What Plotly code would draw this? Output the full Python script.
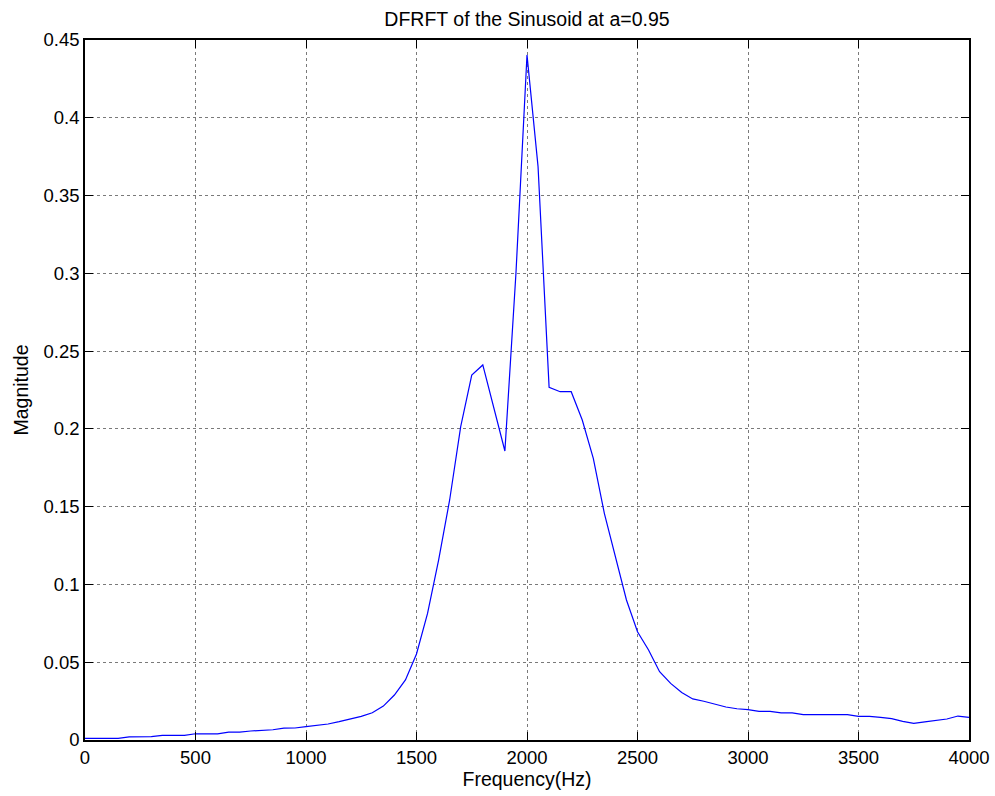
import plotly.graph_objects as go

freq_hz = [0, 50, 100, 150, 200, 250, 300, 350, 400, 450,
           500, 550, 600, 650, 700, 750, 800, 850, 900, 950,
           1000, 1050, 1100, 1150, 1200, 1250, 1300, 1350, 1400, 1450,
           1500, 1550, 1600, 1650, 1700, 1750, 1800, 1850, 1900, 1950,
           2000, 2050, 2100, 2150, 2200, 2250, 2300, 2350, 2400, 2450,
           2500, 2550, 2600, 2650, 2700, 2750, 2800, 2850, 2900, 2950,
           3000, 3050, 3100, 3150, 3200, 3250, 3300, 3350, 3400, 3450,
           3500, 3550, 3600, 3650, 3700, 3750, 3800, 3850, 3900, 3950,
           4000]

magnitude = [0.001, 0.001, 0.001, 0.001, 0.002, 0.002, 0.0022, 0.003, 0.003, 0.003,
             0.004, 0.004, 0.004, 0.005, 0.005, 0.0058, 0.006, 0.0066, 0.0076, 0.0077,
             0.0086, 0.0093, 0.0103, 0.0118, 0.0135, 0.0152, 0.0175, 0.0218, 0.0289, 0.0386,
             0.0553, 0.0814, 0.1157, 0.1543, 0.2014, 0.2346, 0.2411, 0.2143, 0.1858, 0.300,
             0.4404, 0.3686, 0.2267, 0.2239, 0.2239, 0.2057, 0.1811, 0.1457, 0.1178, 0.0900,
             0.0696, 0.0579, 0.0439, 0.0364, 0.0305, 0.0264, 0.0249, 0.0229, 0.0212, 0.0201,
             0.0195, 0.0184, 0.0184, 0.0174, 0.0174, 0.0163, 0.0163, 0.0163, 0.0163, 0.0163,
             0.0152, 0.0152, 0.0146, 0.0137, 0.0120, 0.0107, 0.0116, 0.0124, 0.0135, 0.0154,
             0.0146]

x_ticks = [0, 500, 1000, 1500, 2000, 2500, 3000, 3500, 4000]
y_ticks = [0, 0.05, 0.1, 0.15, 0.2, 0.25, 0.3, 0.35, 0.4, 0.45]
y_tick_text = ["0", "0.05", "0.1", "0.15", "0.2", "0.25", "0.3", "0.35", "0.4", "0.45"]

FONT = "Liberation Sans, Arial, sans-serif"

fig = go.Figure()
fig.add_trace(go.Scatter(x=freq_hz, y=magnitude, mode="lines",
                         line=dict(color="#0000FF", width=1.2), showlegend=False))

axis_common = dict(
    showline=True, linecolor="black", linewidth=1.5, mirror="ticks",
    ticks="inside", ticklen=8, tickwidth=1, tickcolor="black",
    showgrid=True, gridcolor="#7a7a7a", griddash="dot", gridwidth=1,
    zeroline=False, automargin=False,
    tickfont=dict(family=FONT, size=18.5, color="black"),
)

fig.update_xaxes(range=[0, 4000], tickvals=x_ticks,
                 title=dict(text="Frequency(Hz)", font=dict(family=FONT, size=19.5, color="black"), standoff=5),
                 **axis_common)
fig.update_yaxes(range=[0, 0.45], tickvals=y_ticks, ticktext=y_tick_text,
                 title=dict(text="Magnitude", font=dict(family=FONT, size=19.5, color="black"), standoff=10),
                 **axis_common)

fig.update_layout(
    width=995, height=796,
    margin=dict(l=85, r=26, t=40, b=56),
    paper_bgcolor="white", plot_bgcolor="white",
    title=dict(text="DFRFT of the Sinusoid at a=0.95", x=0.5, xanchor="center",
               xref="paper", y=1 - 19 / 796, yanchor="middle",
               font=dict(family=FONT, size=19.5, color="black")),
)

fig.write_html("out.html")
